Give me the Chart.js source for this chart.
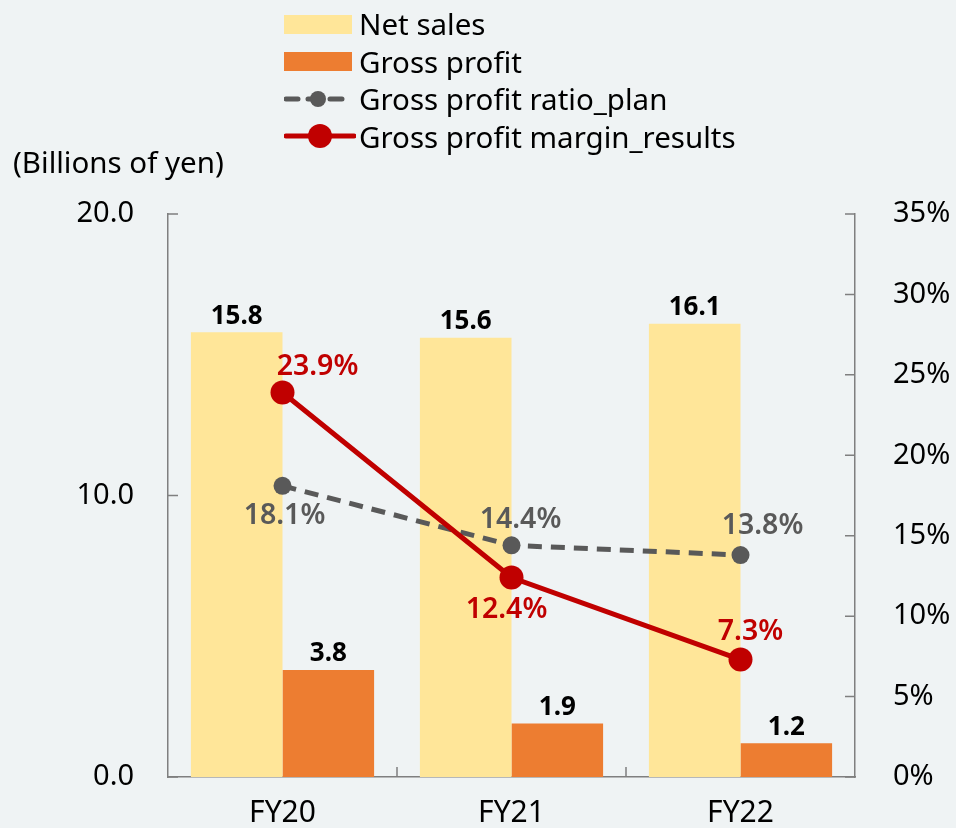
<!DOCTYPE html>
<html>
<head>
<meta charset="utf-8">
<script src="https://cdn.jsdelivr.net/npm/chart.js@4/dist/chart.umd.min.js"></script>
<style>
  html, body { margin: 0; padding: 0; background: #eff3f4; }
  #wrap { position: relative; width: 956px; height: 828px; font-family: "Noto Sans", sans-serif; }
  #chart { position: absolute; left: 0; top: 0; }
  #unit { position: absolute; left: 13px; top: 141px; font-size: 29.5px; color: #000; }
  #legend { position: absolute; left: 284px; top: 5px; list-style: none; margin: 0; padding: 0; }
  #legend li { display: flex; align-items: center; height: 37.5px; font-size: 29.5px; color: #000; }
  #legend svg { margin-right: 3px; }
</style>
</head>
<body>
<div id="wrap">
  <canvas id="chart" width="956" height="828"></canvas>
  <div id="unit">(Billions of yen)</div>
  <ul id="legend"></ul>
</div>
<script>
const categories = ["FY20", "FY21", "FY22"];
const netSales = [15.8, 15.6, 16.1];
const grossProfit = [3.8, 1.9, 1.2];
const ratioPlan = [18.1, 14.4, 13.8];
const marginResults = [23.9, 12.4, 7.3];

const seriesNames = ["Net sales", "Gross profit", "Gross profit ratio_plan", "Gross profit margin_results"];

// label offsets (dx, dy) for the line value labels
const planLabelOffset = [[2, 30], [9, -25], [22, -29]];
const resultLabelOffset = [[35, -26], [-5, 32], [10, -28]];

const C_SALES = "#ffe699";
const C_PROFIT = "#ed7d31";
const C_PLAN = "#595959";
const C_RESULT = "#c00000";
const AXIS = "#7f7f7f";
const FONT = "Noto Sans";

const legendItems = [
  { name: seriesNames[0], svg: `<rect x="0" y="9" width="68" height="19" fill="${C_SALES}"/>` },
  { name: seriesNames[1], svg: `<rect x="0" y="9" width="68" height="19" fill="${C_PROFIT}"/>` },
  { name: seriesNames[2], svg: `<line x1="2" y1="18" x2="66" y2="18" stroke="${C_PLAN}" stroke-width="5" stroke-linecap="round" stroke-dasharray="12 10"/><circle cx="34" cy="18" r="8" fill="${C_PLAN}"/>` },
  { name: seriesNames[3], svg: `<line x1="2" y1="18" x2="70" y2="18" stroke="${C_RESULT}" stroke-width="5" stroke-linecap="round"/><circle cx="36" cy="18" r="12" fill="${C_RESULT}"/>` },
];
const legendEl = document.getElementById("legend");
legendItems.forEach((it) => {
  const li = document.createElement("li");
  li.innerHTML = `<svg width="72" height="36">${it.svg}</svg><span>${it.name}</span>`;
  legendEl.appendChild(li);
});

const labelPlugin = {
  id: "valueLabels",
  afterDatasetsDraw(chart) {
    const ctx = chart.ctx;
    ctx.save();
    ctx.textAlign = "center";
    ctx.textBaseline = "middle";
    chart.data.datasets.forEach((ds, di) => {
      const meta = chart.getDatasetMeta(di);
      meta.data.forEach((el, i) => {
        const v = ds.data[i];
        if (ds.type === "bar") {
          ctx.font = `bold 26px "${FONT}"`;
          ctx.fillStyle = "#000";
          ctx.fillText(v.toFixed(1), el.x, el.y - 16);
        } else {
          const off = ds.labelOffset[i];
          ctx.font = `600 28.5px "${FONT}"`;
          ctx.fillStyle = ds.borderColor;
          ctx.fillText(v.toFixed(1) + "%", el.x + off[0], el.y + off[1]);
        }
      });
    });
    ctx.restore();
  },
};

const tickPlugin = {
  id: "innerTicks",
  afterDraw(chart) {
    const ctx = chart.ctx;
    const { y, y1, x } = chart.scales;
    ctx.save();
    ctx.strokeStyle = AXIS;
    ctx.lineWidth = 1.5;
    ctx.beginPath();
    y.ticks.forEach((t) => {
      const py = y.getPixelForValue(t.value);
      ctx.moveTo(y.right, py);
      ctx.lineTo(y.right + 10, py);
    });
    y1.ticks.forEach((t) => {
      const py = y1.getPixelForValue(t.value);
      ctx.moveTo(y1.left, py);
      ctx.lineTo(y1.left - 10, py);
    });
    for (let i = 0; i < categories.length - 1; i++) {
      const px = (x.getPixelForTick(i) + x.getPixelForTick(i + 1)) / 2;
      ctx.moveTo(px, x.top);
      ctx.lineTo(px, x.top - 10);
    }
    ctx.stroke();
    ctx.restore();
  },
};

new Chart(document.getElementById("chart"), {
  data: {
    labels: categories,
    datasets: [
      {
        type: "line",
        label: seriesNames[3],
        data: marginResults,
        yAxisID: "y1",
        borderColor: C_RESULT,
        backgroundColor: C_RESULT,
        borderWidth: 5,
        pointRadius: 12,
        pointBorderWidth: 0,
        labelOffset: resultLabelOffset,
        order: 0,
      },
      {
        type: "line",
        label: seriesNames[2],
        data: ratioPlan,
        yAxisID: "y1",
        borderColor: C_PLAN,
        backgroundColor: C_PLAN,
        borderWidth: 5,
        borderDash: [14, 9],
        pointRadius: 9,
        pointBorderWidth: 0,
        labelOffset: planLabelOffset,
        order: 1,
      },
      {
        type: "bar",
        label: seriesNames[0],
        data: netSales,
        yAxisID: "y",
        backgroundColor: C_SALES,
        categoryPercentage: 0.8,
        barPercentage: 1.0,
        order: 2,
      },
      {
        type: "bar",
        label: seriesNames[1],
        data: grossProfit,
        yAxisID: "y",
        backgroundColor: C_PROFIT,
        categoryPercentage: 0.8,
        barPercentage: 1.0,
        order: 2,
      },
    ],
  },
  options: {
    responsive: false,
    animation: false,
    layout: { padding: { top: 214, left: 0, right: 0, bottom: 0 } },
    plugins: { legend: { display: false }, tooltip: { enabled: false } },
    scales: {
      x: {
        grid: { display: false },
        border: { display: true, color: AXIS, width: 1.5 },
        ticks: { color: "#000", font: { family: FONT, size: 30 }, padding: 10 },
        afterFit(s) { s.height = 51; },
      },
      y: {
        position: "left",
        min: 0,
        max: 20,
        grid: { display: false, drawTicks: false },
        border: { display: true, color: AXIS, width: 1.5 },
        ticks: {
          stepSize: 10,
          color: "#000",
          font: { family: FONT, size: 29 },
          padding: 34,
          callback: (v) => v.toFixed(1),
        },
        afterFit(s) { s.width = 168; s.paddingTop = 0; s.paddingBottom = 0; },
      },
      y1: {
        position: "right",
        min: 0,
        max: 35,
        grid: { display: false, drawTicks: false },
        border: { display: true, color: AXIS, width: 1.5 },
        ticks: {
          stepSize: 5,
          color: "#000",
          font: { family: FONT, size: 29 },
          padding: 38,
          callback: (v) => v + "%",
        },
        afterFit(s) { s.width = 101; s.paddingTop = 0; s.paddingBottom = 0; },
      },
    },
  },
  plugins: [labelPlugin, tickPlugin],
});
</script>
</body>
</html>
